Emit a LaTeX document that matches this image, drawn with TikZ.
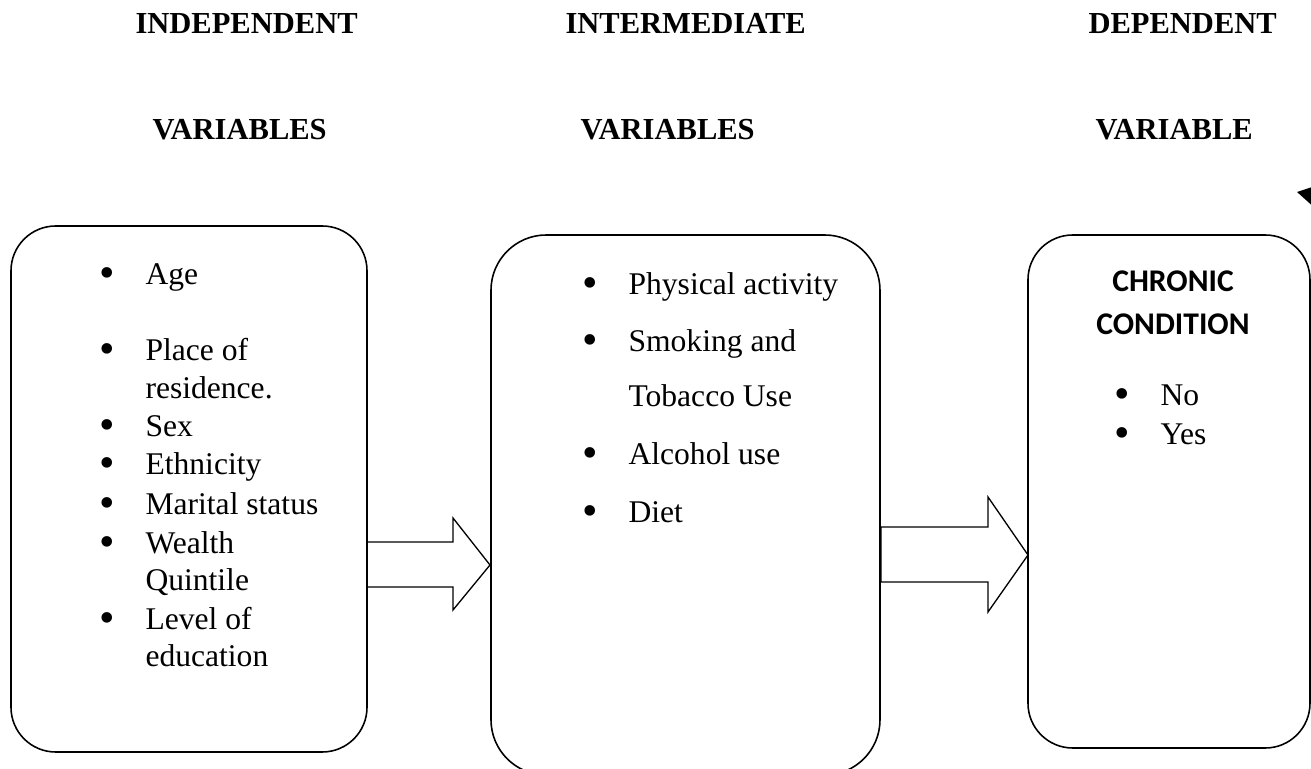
\documentclass[tikz,border=0pt]{standalone}
\usepackage{fontspec}
\setmainfont{Liberation Serif}
\newfontfamily\calibrifont{Carlito}
\usetikzlibrary{arrows.meta}
\newcommand{\px}{0.38pt}
\newcommand{\bul}{\makebox[17.5pt][l]{\smash{\raisebox{-0.07em}{\scalebox{1.4}{\textbullet}}}}}
\begin{document}
\begin{tikzpicture}[x={(0.38pt,0)},y={(0,-0.38pt)}]
\tikzstyle{box_style} = [draw, rectangle, inner sep=0, line width=0.6pt]
\tikzstyle{item_style} = [anchor=base west, inner sep=0, font=\fontsize{12}{14}\selectfont]
\tikzstyle{head_style} = [anchor=base west, inner sep=0, font=\fontsize{11.6}{14}\selectfont\bfseries]
\tikzstyle{title_style} = [anchor=base, inner sep=0, font=\fontsize{12}{14}\selectfont\calibrifont\bfseries]
\tikzstyle{block_style} = [draw, line width=0.5pt, line join=miter]
    \useasboundingbox (0,0) rectangle (1311,769);
    \clip (0,0) rectangle (1311,769);

    % headings
    \node[head_style] (h1) at (135,34) {INDEPENDENT};
    \node[head_style] (h2) at (152,140) {VARIABLES};
    \node[head_style] (h3) at (565,34) {INTERMEDIATE};
    \node[head_style] (h4) at (580,140) {VARIABLES};
    \node[head_style] (h5) at (1088,34) {DEPENDENT};
    \node[head_style] (h6) at (1095,140) {VARIABLE};

    % boxes
    \node[box_style, rounded corners=17pt, minimum width=356*\px, minimum height=526*\px] (ind) at (189,489) {};
    \node[box_style, rounded corners=21pt, minimum width=389*\px, minimum height=540*\px] (mid) at (685.5,505) {};
    \node[box_style, rounded corners=17pt, minimum width=282*\px, minimum height=513*\px] (dep) at (1169,491.5) {};

    \node[item_style] (i1) at (99,285) {\bul Age};
    \node[item_style] (i2) at (99,361) {\bul Place of};
    \node[item_style] (i2b) at (145,399) {residence.};
    \node[item_style] (i3) at (99,437) {\bul Sex};
    \node[item_style] (i4) at (99,475) {\bul Ethnicity};
    \node[item_style] (i5) at (99,515) {\bul Marital status};
    \node[item_style] (i6) at (99,554) {\bul Wealth};
    \node[item_style] (i6b) at (145,591) {Quintile};
    \node[item_style] (i7) at (99,630) {\bul Level of};
    \node[item_style] (i7b) at (145,667) {education};

    \node[item_style] (m1) at (582,295) {\bul Physical activity};
    \node[item_style] (m2) at (582,352) {\bul Smoking and};
    \node[item_style] (m2b) at (628,407) {Tobacco Use};
    \node[item_style] (m3) at (582,465) {\bul Alcohol use};
    \node[item_style] (m4) at (582,523) {\bul Diet};

    \node[title_style] (d0) at (1173,292) {CHRONIC};
    \node[title_style] (d0b) at (1173,335) {CONDITION};
    \node[item_style] (d1) at (1114,406) {\bul No};
    \node[item_style] (d2) at (1114,445) {\bul Yes};

    % block arrows
    \coordinate (a1s) at (367,565);
    \coordinate (a1e) at (490,565);
    \coordinate (a2s) at (881,555);
    \coordinate (a2e) at (1028,555);
    \draw[block_style] (a1s) ++(0,-23) -- ++(86,0) -- ++(0,-24) -- (a1e)
        -- ++(-37,45) -- ++(0,-23) -- ++(-86,0) -- cycle;
    \draw[block_style] (a2s) ++(0,-28) -- ++(107,0) -- ++(0,-30) -- (a2e)
        -- ++(-40,57) -- ++(0,-30) -- ++(-107,0) -- cycle;

    % stray arrow at the edge
    \coordinate (loose_end) at (1350,203);
    \coordinate (loose_tip) at (1297,192);
    \draw[line width=0.5pt, -{Triangle[length=7pt, width=8pt]}] (loose_end) -- (loose_tip);
\end{tikzpicture}
\end{document}
